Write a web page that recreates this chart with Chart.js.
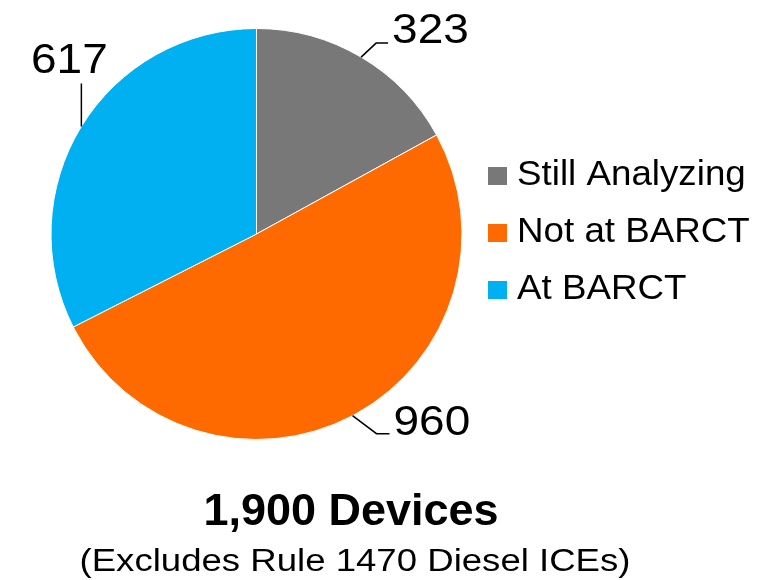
<!DOCTYPE html>
<html>
<head>
<meta charset="utf-8">
<script src="https://cdn.jsdelivr.net/npm/chart.js@4.4.0/dist/chart.umd.min.js"></script>
<style>
  html, body { margin: 0; padding: 0; background: #fff; }
  #wrap { width: 761px; height: 580px; }
</style>
</head>
<body>
<div id="wrap"><canvas id="pieChart" width="761" height="580"></canvas></div>
<script>
const categories = ["Still Analyzing", "Not at BARCT", "At BARCT"];
const deviceCounts = [323, 960, 617];
const sliceColors = ["#787878", "#ff6a00", "#00b0f0"];
const titleText = "1,900 Devices";
const subtitleText = "(Excludes Rule 1470 Diesel ICEs)";

const FONT = "'Liberation Sans', Arial, sans-serif";

// leader line shape for each slice: elbow offset, horizontal run, text anchor
const leaders = [
    { elbow: [15, -14], run: 12, textDx: 4, textDy: 0, align: "left" },
    { elbow: [24, 18], run: 13, textDx: 4, textDy: 1, align: "left" },
    { elbow: [0, -43], run: 0, textDx: -12, textDy: -10, align: "center" }
];

// text in the picture is a bit wider than plain Arial, so stretch it sideways
function wideText(ctx, text, x, y, sx) {
    ctx.save();
    ctx.translate(x, y);
    ctx.scale(sx, 1);
    ctx.fillText(text, 0, 0);
    ctx.restore();
}

const labelsPlugin = {
    id: "pieExtras",
    afterDraw(chart) {
        const ctx = chart.ctx;
        const meta = chart.getDatasetMeta(0);
        const ds = chart.data.datasets[0];

        // value labels with leader lines
        ctx.save();
        ctx.strokeStyle = "#000";
        ctx.lineWidth = 1.5;
        ctx.fillStyle = "#000";
        ctx.font = "43px " + FONT;
        ctx.textBaseline = "alphabetic";
        meta.data.forEach((arc, i) => {
            const mid = (arc.startAngle + arc.endAngle) / 2;
            const x0 = arc.x + Math.cos(mid) * arc.outerRadius;
            const y0 = arc.y + Math.sin(mid) * arc.outerRadius;
            const L = leaders[i];
            const x1 = x0 + L.elbow[0], y1 = y0 + L.elbow[1];
            const x2 = x1 + L.run;
            ctx.beginPath();
            ctx.moveTo(x0, y0);
            ctx.lineTo(x1, y1);
            if (L.run) ctx.lineTo(x2, y1);
            ctx.stroke();
            ctx.textAlign = L.align;
            wideText(ctx, String(ds.data[i]), x2 + L.textDx, y1 + L.textDy, 1.07);
        });
        ctx.restore();

        // legend
        ctx.save();
        ctx.font = "35px " + FONT;
        ctx.textAlign = "left";
        ctx.textBaseline = "alphabetic";
        chart.data.labels.forEach((lab, i) => {
            const base = 185 + i * 57;
            ctx.fillStyle = ds.backgroundColor[i];
            ctx.fillRect(488, base - 18, 19, 18);
            ctx.fillStyle = "#000";
            wideText(ctx, lab, 517, base, 1.05);
        });
        ctx.restore();

        // titles
        ctx.save();
        ctx.fillStyle = "#000";
        ctx.textAlign = "center";
        ctx.font = "bold 45px " + FONT;
        wideText(ctx, titleText, 351, 525, 1.0);
        ctx.font = "31px " + FONT;
        wideText(ctx, subtitleText, 355, 571, 1.18);
        ctx.restore();
    }
};

new Chart(document.getElementById("pieChart"), {
    type: "pie",
    data: {
        labels: categories,
        datasets: [{
            data: deviceCounts,
            backgroundColor: sliceColors,
            borderColor: "#ffffff",
            borderWidth: 1
        }]
    },
    options: {
        responsive: false,
        animation: false,
        layout: { padding: { left: 50, right: 298, top: 28, bottom: 140 } },
        plugins: {
            legend: { display: false },
            tooltip: { enabled: false }
        }
    },
    plugins: [labelsPlugin]
});
</script>
</body>
</html>
